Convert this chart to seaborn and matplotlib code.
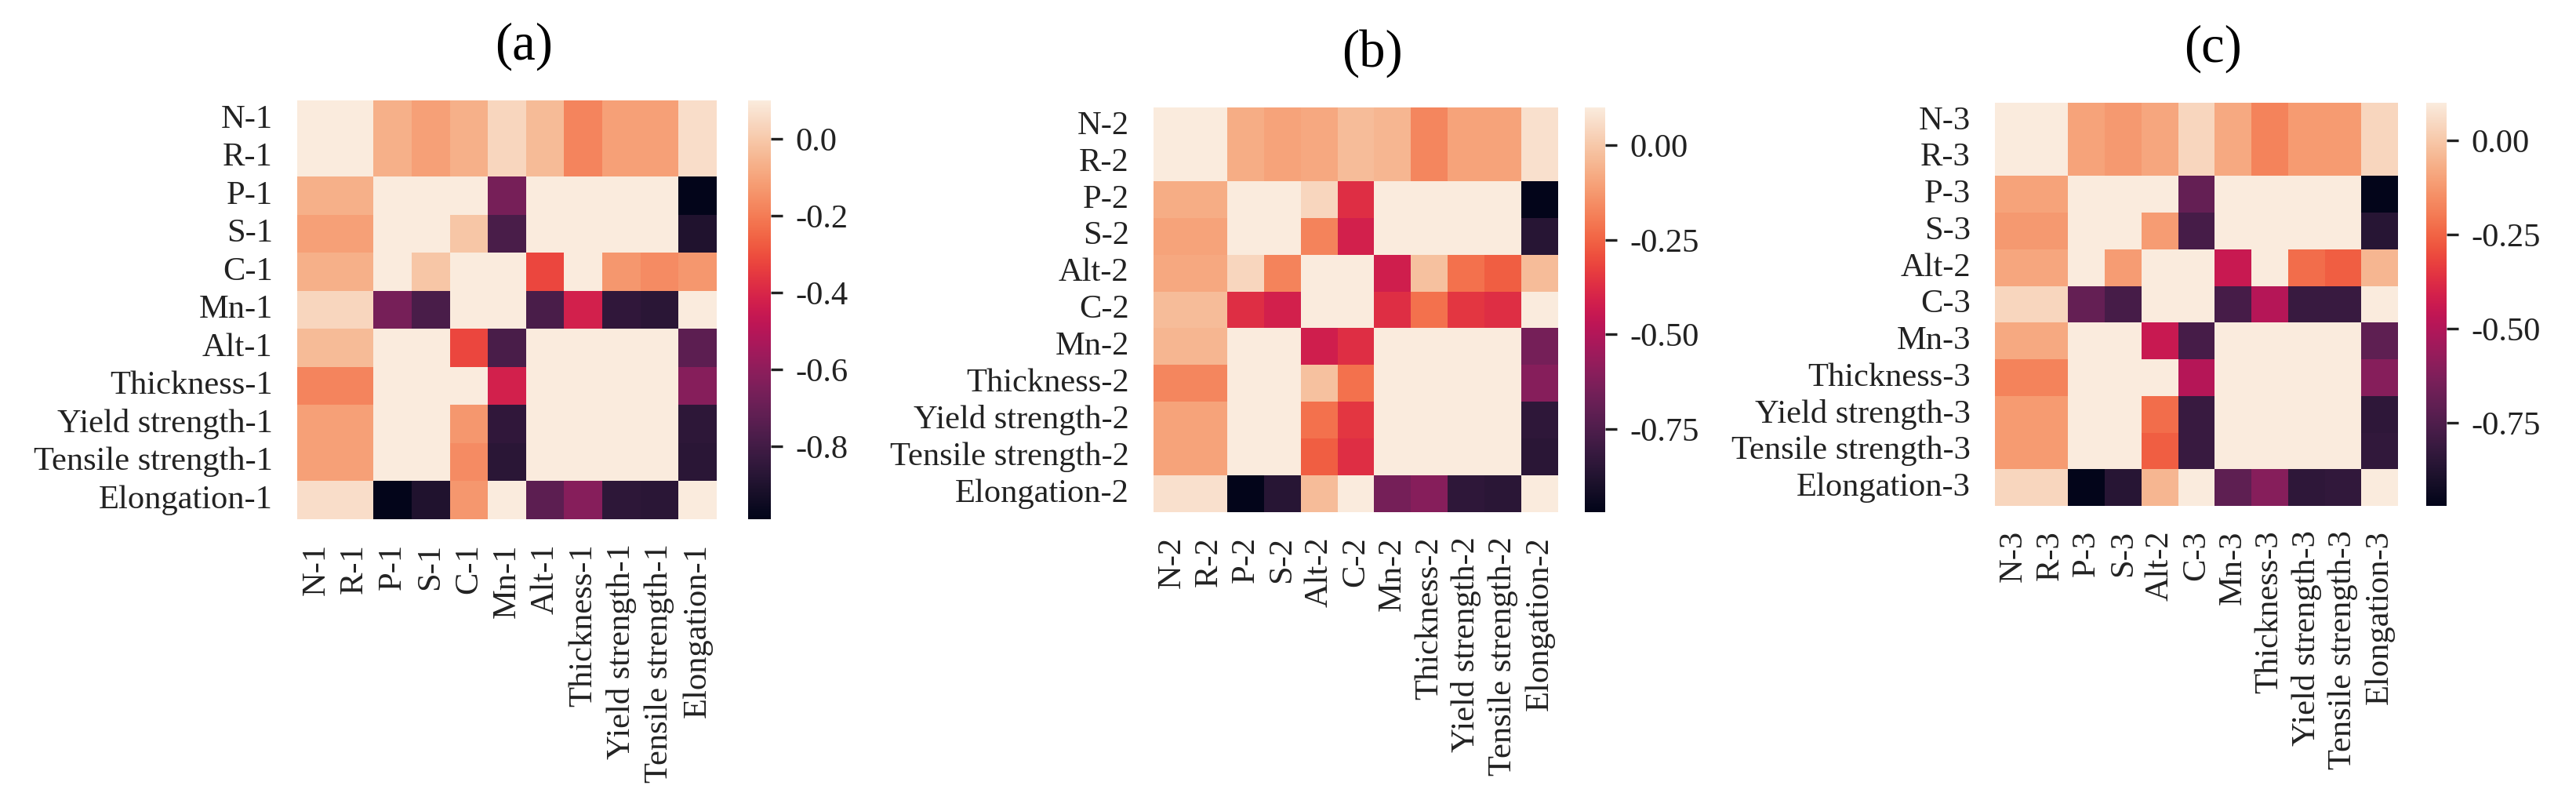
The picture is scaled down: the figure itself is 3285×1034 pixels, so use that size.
import numpy as np
import pandas as pd
import matplotlib
matplotlib.use("Agg")
import matplotlib.pyplot as plt
import seaborn as sns

labels_a = ["N-1", "R-1", "P-1", "S-1", "C-1", "Mn-1", "Alt-1", "Thickness-1",
            "Yield strength-1", "Tensile strength-1", "Elongation-1"]
labels_b = ["N-2", "R-2", "P-2", "S-2", "Alt-2", "C-2", "Mn-2", "Thickness-2",
            "Yield strength-2", "Tensile strength-2", "Elongation-2"]
labels_c = ["N-3", "R-3", "P-3", "S-3", "Alt-2", "C-3", "Mn-3", "Thickness-3",
            "Yield strength-3", "Tensile strength-3", "Elongation-3"]

# values (matrices are symmetric)
values_a = [
    [0.10, 0.10, -0.07, -0.11, -0.07, 0.04, -0.04, -0.18, -0.11, -0.11, 0.06],
    [0.10, 0.10, -0.07, -0.11, -0.07, 0.04, -0.04, -0.18, -0.11, -0.11, 0.06],
    [-0.07, -0.07, 0.10, 0.10, 0.10, -0.66, 0.10, 0.10, 0.10, 0.10, -0.99],
    [-0.11, -0.11, 0.10, 0.10, -0.01, -0.78, 0.10, 0.10, 0.10, 0.10, -0.90],
    [-0.07, -0.07, 0.10, -0.01, 0.10, 0.10, -0.32, 0.10, -0.13, -0.16, -0.13],
    [0.04, 0.04, -0.66, -0.78, 0.10, 0.10, -0.78, -0.42, -0.85, -0.87, 0.10],
    [-0.04, -0.04, 0.10, 0.10, -0.32, -0.78, 0.10, 0.10, 0.10, 0.10, -0.73],
    [-0.18, -0.18, 0.10, 0.10, 0.10, -0.42, 0.10, 0.10, 0.10, 0.10, -0.62],
    [-0.11, -0.11, 0.10, 0.10, -0.13, -0.85, 0.10, 0.10, 0.10, 0.10, -0.86],
    [-0.11, -0.11, 0.10, 0.10, -0.16, -0.87, 0.10, 0.10, 0.10, 0.10, -0.87],
    [0.06, 0.06, -0.99, -0.90, -0.13, 0.10, -0.73, -0.62, -0.86, -0.87, 0.10],
]
values_b = [
    [0.10, 0.10, -0.075, -0.10, -0.085, -0.03, -0.05, -0.17, -0.10, -0.10, 0.07],
    [0.10, 0.10, -0.075, -0.10, -0.085, -0.03, -0.05, -0.17, -0.10, -0.10, 0.07],
    [-0.075, -0.075, 0.10, 0.10, 0.04, -0.37, 0.10, 0.10, 0.10, 0.10, -0.97],
    [-0.10, -0.10, 0.10, 0.10, -0.18, -0.41, 0.10, 0.10, 0.10, 0.10, -0.86],
    [-0.085, -0.085, 0.04, -0.18, 0.10, 0.10, -0.42, -0.02, -0.22, -0.26, -0.03],
    [-0.03, -0.03, -0.37, -0.41, 0.10, 0.10, -0.37, -0.22, -0.35, -0.37, 0.10],
    [-0.05, -0.05, 0.10, 0.10, -0.42, -0.37, 0.10, 0.10, 0.10, 0.10, -0.65],
    [-0.17, -0.17, 0.10, 0.10, -0.02, -0.22, 0.10, 0.10, 0.10, 0.10, -0.61],
    [-0.10, -0.10, 0.10, 0.10, -0.22, -0.35, 0.10, 0.10, 0.10, 0.10, -0.84],
    [-0.10, -0.10, 0.10, 0.10, -0.26, -0.37, 0.10, 0.10, 0.10, 0.10, -0.85],
    [0.07, 0.07, -0.97, -0.86, -0.03, 0.10, -0.65, -0.61, -0.84, -0.85, 0.10],
]
values_c = [
    [0.10, 0.10, -0.10, -0.125, -0.09, 0.04, -0.08, -0.18, -0.12, -0.12, 0.04],
    [0.10, 0.10, -0.10, -0.125, -0.09, 0.04, -0.08, -0.18, -0.12, -0.12, 0.04],
    [-0.10, -0.10, 0.10, 0.10, 0.10, -0.69, 0.10, 0.10, 0.10, 0.10, -0.97],
    [-0.125, -0.125, 0.10, 0.10, -0.115, -0.77, 0.10, 0.10, 0.10, 0.10, -0.86],
    [-0.09, -0.09, 0.10, -0.115, 0.10, 0.10, -0.44, 0.10, -0.23, -0.26, -0.05],
    [0.04, 0.04, -0.69, -0.77, 0.10, 0.10, -0.77, -0.49, -0.81, -0.81, 0.10],
    [-0.08, -0.08, 0.10, 0.10, -0.44, -0.77, 0.10, 0.10, 0.10, 0.10, -0.71],
    [-0.18, -0.18, 0.10, 0.10, 0.10, -0.49, 0.10, 0.10, 0.10, 0.10, -0.61],
    [-0.12, -0.12, 0.10, 0.10, -0.23, -0.81, 0.10, 0.10, 0.10, 0.10, -0.84],
    [-0.12, -0.12, 0.10, 0.10, -0.26, -0.81, 0.10, 0.10, 0.10, 0.10, -0.83],
    [0.04, 0.04, -0.97, -0.86, -0.05, 0.10, -0.71, -0.61, -0.84, -0.83, 0.10],
]
cbar_ticks_a = [0.0, -0.2, -0.4, -0.6, -0.8]
cbar_ticks_b = [0.0, -0.25, -0.5, -0.75]
cbar_ticks_c = [0.0, -0.25, -0.5, -0.75]
titles = ["(a)", "(b)", "(c)"]

sns.set_theme(style="white")
plt.rcParams["font.family"] = ["Liberation Serif", "DejaVu Serif"]
plt.rcParams.update({
    "axes.unicode_minus": False,
    "xtick.major.size": 3.5, "ytick.major.size": 3.5,
    "xtick.major.pad": 4, "ytick.major.pad": 4,
    "xtick.labelsize": 10.2, "ytick.labelsize": 10.2,
    "text.color": "#222222", "xtick.color": "#222222", "ytick.color": "#222222",
})

W, H = 3285, 1034
fig = plt.figure(figsize=(W / 300, H / 300), dpi=300)

# pixel boxes of heatmap and colorbar: (left, top, right, bottom)
boxes = [
    ((379, 128, 914, 662), (954, 983)),
    ((1471, 137, 1987, 653), (2021, 2047)),
    ((2544, 131, 3058, 645), (3094, 3120)),
]

def to_rect(l, t, r, b):
    return [l / W, 1 - b / H, (r - l) / W, (b - t) / H]

panels = zip(boxes, [labels_a, labels_b, labels_c], [values_a, values_b, values_c],
             [cbar_ticks_a, cbar_ticks_b, cbar_ticks_c], titles)
for (hm, cb), labels, values, cticks, title in panels:
    ax = fig.add_axes(to_rect(*hm))
    cax = fig.add_axes(to_rect(cb[0], hm[1], cb[1], hm[3]))
    df = pd.DataFrame(values, index=labels, columns=labels)
    sns.heatmap(df, ax=ax, cbar_ax=cax, xticklabels=labels, yticklabels=labels,
                cbar_kws={"ticks": cticks})
    ax.set_xticklabels(labels, rotation=90)
    ax.set_yticklabels(labels, rotation=0)
    ax.tick_params(left=False, bottom=False)
    cax.tick_params(labelsize=10.2, length=3.5, width=0.8)
    ax.set_title(title, fontsize=16, x=0.54, y=1.0, pad=12.5, color="black")

fig.savefig("out.png", dpi=300)
